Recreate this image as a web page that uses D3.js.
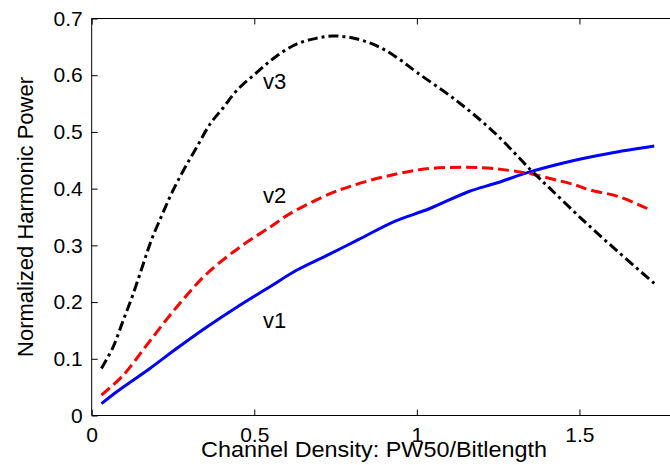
<!DOCTYPE html>
<html>
<head>
<meta charset="utf-8">
<script src="https://cdn.jsdelivr.net/npm/d3@7"></script>
<style>
  html, body { margin: 0; padding: 0; background: #fff; }
  svg { display: block; font-family: "Liberation Sans", Arial, Helvetica, sans-serif; }
</style>
</head>
<body>
<svg id="chart" width="670" height="465"></svg>
<script>
// ---- data ----
const xTicks = [0, 0.5, 1, 1.5];
const yTicks = [0, 0.1, 0.2, 0.3, 0.4, 0.5, 0.6, 0.7];
const xTickLabels = ["0", "0.5", "1", "1.5"];
const yTickLabels = ["0", "0.1", "0.2", "0.3", "0.4", "0.5", "0.6", "0.7"];

const v1X = [0.03, 0.077, 0.179, 0.261, 0.354, 0.446, 0.548, 0.63, 0.733, 0.82, 0.93, 1.04, 1.16, 1.24, 1.35, 1.47, 1.59, 1.73];
const v1Y = [0.021, 0.042, 0.083, 0.118, 0.156, 0.191, 0.227, 0.256, 0.285, 0.310, 0.342, 0.365, 0.395, 0.409, 0.430, 0.448, 0.462, 0.475];

const v2X = [0.03, 0.097, 0.169, 0.261, 0.354, 0.456, 0.548, 0.61, 0.733, 0.80, 0.90, 1.03, 1.20, 1.31, 1.35, 1.43, 1.49, 1.53, 1.62, 1.72];
const v2Y = [0.036, 0.071, 0.124, 0.191, 0.250, 0.297, 0.332, 0.356, 0.391, 0.405, 0.421, 0.435, 0.437, 0.430, 0.426, 0.415, 0.406, 0.398, 0.386, 0.362];

const v3X = [0.03, 0.066, 0.097, 0.128, 0.159, 0.184, 0.215, 0.246, 0.282, 0.323, 0.364, 0.405, 0.446, 0.508, 0.569, 0.630, 0.69, 0.74, 0.79, 0.85, 0.90, 0.944, 1.00, 1.12, 1.24, 1.35, 1.41, 1.51, 1.62, 1.73];
const v3Y = [0.083, 0.121, 0.168, 0.215, 0.268, 0.310, 0.352, 0.392, 0.432, 0.473, 0.514, 0.543, 0.573, 0.605, 0.634, 0.655, 0.665, 0.669, 0.667, 0.658, 0.645, 0.629, 0.605, 0.556, 0.498, 0.433, 0.400, 0.345, 0.288, 0.233];

const seriesNames = ["v1", "v2", "v3"];
const seriesLabelPos = [[0.527, 0.155], [0.527, 0.375], [0.527, 0.575]]; // data coords of text labels

// ---- layout ----
const svg = d3.select("#chart");
const L = 91.7, R = 677, T = 18.5, B = 415.5;
const x = d3.scaleLinear().domain([0, 1.8]).range([L, R]);
const y = d3.scaleLinear().domain([0, 0.7]).range([B, T]);
const FONT = 21;

const series = [
  { name: seriesNames[0], xs: v1X, ys: v1Y, color: "#0000ff", dash: null },
  { name: seriesNames[1], xs: v2X, ys: v2Y, color: "#ff0000", dash: "11,5" },
  { name: seriesNames[2], xs: v3X, ys: v3Y, color: "#000000", dash: "10,4,3,4" }
];

const line = d3.line().x(d => x(d[0])).y(d => y(d[1])).curve(d3.curveCatmullRom.alpha(0.5));

svg.append("defs").append("clipPath").attr("id", "clip")
  .append("rect").attr("x", L).attr("y", T).attr("width", R - L).attr("height", B - T);

const g = svg.append("g").attr("clip-path", "url(#clip)");
series.forEach(s => {
  g.append("path")
    .datum(s.xs.map((v, i) => [v, s.ys[i]]))
    .attr("d", line)
    .attr("fill", "none")
    .attr("stroke", s.color)
    .attr("stroke-width", 3)
    .attr("stroke-dasharray", s.dash)
    .attr("stroke-linejoin", "round");
});

// ---- axes (MATLAB style box, inward ticks) ----
const xAxisB = d3.axisBottom(x).tickValues(xTicks).tickSize(-6).tickPadding(12)
  .tickFormat((d, i) => xTickLabels[i]);
const xAxisT = d3.axisTop(x).tickValues(xTicks).tickSize(-6).tickFormat("");
const yAxisL = d3.axisLeft(y).tickValues(yTicks).tickSize(-6).tickPadding(9)
  .tickFormat((d, i) => yTickLabels[i]);

function style(sel) {
  sel.selectAll("path.domain").attr("stroke", "#000").attr("stroke-width", 1);
  sel.selectAll(".tick line").attr("stroke", "#000").attr("stroke-width", 1);
  sel.selectAll("text").attr("fill", "#000").attr("font-size", FONT)
    .attr("font-family", "'Liberation Sans', Arial, Helvetica, sans-serif");
}

const gxb = svg.append("g").attr("transform", `translate(0,${B})`).call(xAxisB);
gxb.select("path.domain").attr("d", `M${L},0H${R}`);
style(gxb);
const gxt = svg.append("g").attr("transform", `translate(0,${T})`).call(xAxisT);
gxt.select("path.domain").attr("d", `M${L},0H${R}`);
style(gxt);
const gyl = svg.append("g").attr("transform", `translate(${L},0)`).call(yAxisL);
gyl.select("path.domain").attr("d", `M0,${B}V${T}`);
style(gyl);

// ---- series labels ----
series.forEach((s, i) => {
  svg.append("text")
    .attr("x", x(seriesLabelPos[i][0]))
    .attr("y", y(seriesLabelPos[i][1]))
    .attr("font-size", 22)
    .attr("fill", "#000")
    .text(s.name);
});

// ---- axis titles ----
svg.append("text")
  .attr("x", 374).attr("y", 457)
  .attr("text-anchor", "middle")
  .attr("font-size", 22)
  .attr("textLength", 346)
  .attr("lengthAdjust", "spacingAndGlyphs")
  .attr("fill", "#000")
  .text("Channel Density: PW50/Bitlength");

svg.append("text")
  .attr("transform", `translate(33,${(T + B) / 2}) rotate(-90)`)
  .attr("text-anchor", "middle")
  .attr("font-size", 22)
  .attr("fill", "#000")
  .text("Normalized Harmonic Power");
</script>
</body>
</html>
